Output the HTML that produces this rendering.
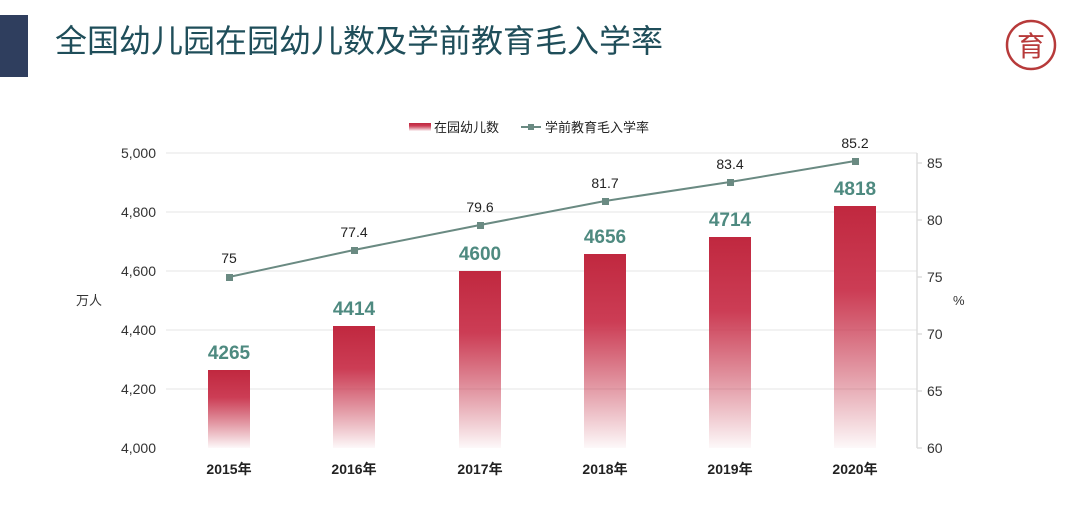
<!DOCTYPE html>
<html><head><meta charset="utf-8"><style>
html,body{margin:0;padding:0;background:#fff;}
body{width:1080px;height:521px;position:relative;overflow:hidden;font-family:"Liberation Sans","Noto Sans CJK SC",sans-serif;}
</style></head><body>
<div style="position:absolute;left:0;top:15px;width:28px;height:62px;background:#2f3e5e"></div>
<div style="position:absolute;left:55px;top:16px;font-size:32px;color:#1f4e5a;font-family:'Liberation Sans','Noto Sans CJK SC',sans-serif;">全国幼儿园在园幼儿数及学前教育毛入学率</div>
<svg width="1080" height="521" style="position:absolute;left:0;top:0">
<defs>
<linearGradient id="g" x1="0" y1="0" x2="0" y2="1">
<stop offset="0" stop-color="#c0283f"/>
<stop offset="0.35" stop-color="#cc3d55"/>
<stop offset="1" stop-color="#c0283f" stop-opacity="0.03"/>
</linearGradient>
</defs>
<circle cx="1031" cy="45" r="24" fill="none" stroke="#b73a3a" stroke-width="2.5"/>
<text x="1031" y="56" font-size="28" fill="#b73a3a" text-anchor="middle" font-family="'Noto Sans CJK SC',sans-serif">育</text>
<rect x="409" y="123" width="22" height="8" fill="url(#g)"/>
<text x="434" y="132" font-size="13" fill="#222">在园幼儿数</text>
<line x1="521" y1="127" x2="541" y2="127" stroke="#6a8a82" stroke-width="2"/>
<rect x="528" y="124" width="6" height="6" fill="#6a8a82"/>
<text x="545" y="132" font-size="13" fill="#222">学前教育毛入学率</text>
<g stroke="#eeeeee" stroke-width="1.5">
<line x1="166" y1="153" x2="917" y2="153"/><line x1="166" y1="212" x2="917" y2="212"/>
<line x1="166" y1="271" x2="917" y2="271"/><line x1="166" y1="330" x2="917" y2="330"/>
<line x1="166" y1="389" x2="917" y2="389"/>
</g>
<g font-size="14" fill="#333" text-anchor="end">
<text x="156" y="158">5,000</text><text x="156" y="217">4,800</text><text x="156" y="276">4,600</text>
<text x="156" y="335">4,400</text><text x="156" y="394">4,200</text><text x="156" y="453">4,000</text>
</g>
<text x="76" y="305" font-size="13" fill="#333">万人</text>
<g font-size="14" fill="#333">
<text x="927" y="168">85</text><text x="927" y="225">80</text><text x="927" y="282">75</text>
<text x="927" y="339">70</text><text x="927" y="396">65</text><text x="927" y="453">60</text>
</g>
<text x="953" y="305" font-size="13" fill="#333">%</text>
<line x1="917" y1="153" x2="917" y2="448" stroke="#dddddd" stroke-width="1.5"/>
<g stroke="#dddddd" stroke-width="1.5">
<line x1="917" y1="163" x2="922" y2="163"/><line x1="917" y1="220" x2="922" y2="220"/><line x1="917" y1="277" x2="922" y2="277"/>
<line x1="917" y1="334" x2="922" y2="334"/><line x1="917" y1="391" x2="922" y2="391"/><line x1="917" y1="448" x2="922" y2="448"/>
</g>
<g fill="url(#g)">
<rect x="208" y="370" width="42" height="78"/>
<rect x="333" y="326" width="42" height="122"/>
<rect x="459" y="271" width="42" height="177"/>
<rect x="584" y="254" width="42" height="194"/>
<rect x="709" y="237" width="42" height="211"/>
<rect x="834" y="206" width="42" height="242"/>
</g>
<g font-size="19" font-weight="bold" fill="#4e8a80" text-anchor="middle">
<text x="229" y="359">4265</text><text x="354" y="315">4414</text><text x="480" y="260">4600</text>
<text x="605" y="243">4656</text><text x="730" y="226">4714</text><text x="855" y="195">4818</text>
</g>
<polyline points="229,277 354,250 480,225 605,201 730,182 855,161" fill="none" stroke="#6a8a82" stroke-width="2"/>
<g fill="#6a8a82">
<rect x="226" y="274" width="7" height="7"/><rect x="351" y="247" width="7" height="7"/><rect x="477" y="222" width="7" height="7"/>
<rect x="602" y="198" width="7" height="7"/><rect x="727" y="179" width="7" height="7"/><rect x="852" y="158" width="7" height="7"/>
</g>
<g font-size="14" fill="#222" text-anchor="middle">
<text x="229" y="263">75</text><text x="354" y="237">77.4</text><text x="480" y="212">79.6</text>
<text x="605" y="188">81.7</text><text x="730" y="169">83.4</text><text x="855" y="148">85.2</text>
</g>
<g font-size="14" font-weight="bold" fill="#222" text-anchor="middle">
<text x="229" y="474">2015年</text><text x="354" y="474">2016年</text><text x="480" y="474">2017年</text>
<text x="605" y="474">2018年</text><text x="730" y="474">2019年</text><text x="855" y="474">2020年</text>
</g>
</svg>
</body></html>
